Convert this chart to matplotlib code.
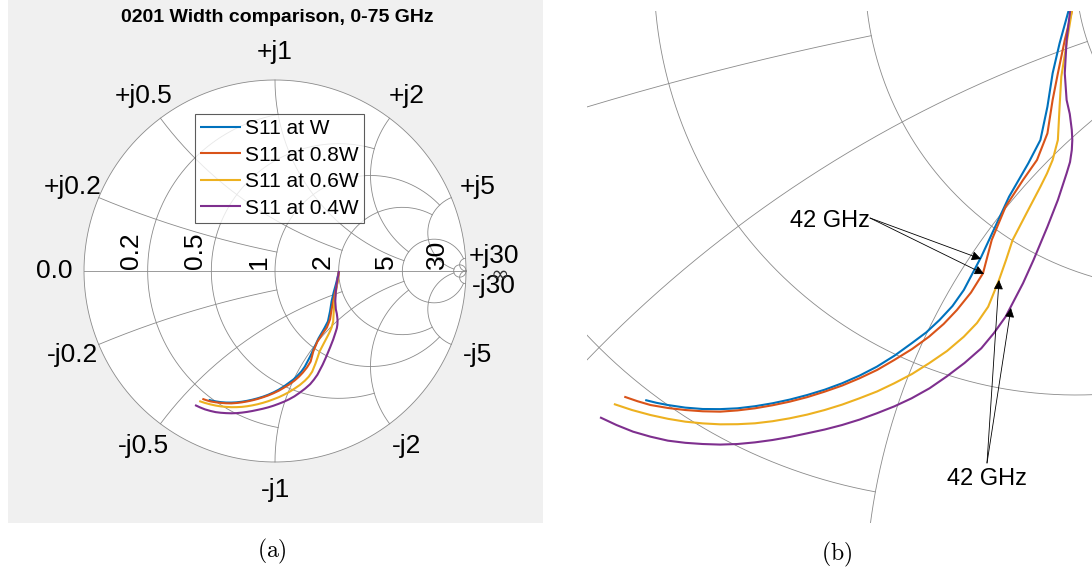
import numpy as np
import matplotlib
matplotlib.use("Agg")
import matplotlib.pyplot as plt

plt.rcParams['font.family'] = ['Liberation Sans', 'DejaVu Sans']
plt.rcParams['mathtext.fontset'] = 'cm'

# ---- data: S11 (reflection coefficient, real / imaginary part) ----
series_labels = ['S11 at W', 'S11 at 0.8W', 'S11 at 0.6W', 'S11 at 0.4W']
series_colors = ['#0072BD', '#D95319', '#EDB120', '#7E2F8E']

s11_w_re = [0.335, 0.3212, 0.3074, 0.2964, 0.2882, 0.2771, 0.2580, 0.2276, 0.2057, 0.1837,
            0.1561, 0.1382, 0.1177, 0.0967, 0.0736, 0.0468, 0.0186, -0.0085, -0.0363,
            -0.0637, -0.0913, -0.1188, -0.1464, -0.1738, -0.2014, -0.2289, -0.2564,
            -0.2839, -0.3114, -0.3294, -0.3472]
s11_w_im = [0.0, -0.0611, -0.1111, -0.1585, -0.2112, -0.2638, -0.3006, -0.3534, -0.4008,
            -0.4482, -0.5008, -0.5261, -0.5482, -0.5678, -0.5850, -0.6044, -0.6220, -0.6360,
            -0.6482, -0.6583, -0.6667, -0.6739, -0.6798, -0.6844, -0.6877, -0.6890, -0.6888,
            -0.6866, -0.6825, -0.6790, -0.6746]

s11_08w_re = [0.335, 0.3267, 0.3156, 0.3047, 0.2964, 0.2882, 0.2717, 0.2496, 0.2221, 0.2002,
              0.1864, 0.1675, 0.1452, 0.1242, 0.1011, 0.0744, 0.0461, 0.0193, -0.0088,
              -0.0360, -0.0638, -0.0912, -0.1190, -0.1461, -0.1739, -0.2013, -0.2289,
              -0.2564, -0.2839, -0.3112, -0.3389, -0.3594, -0.3803]
s11_08w_im = [0.0, -0.0611, -0.1058, -0.1585, -0.2006, -0.2533, -0.2954, -0.3270, -0.3692,
              -0.4218, -0.4744, -0.5047, -0.5324, -0.5545, -0.5746, -0.5940, -0.6114, -0.6270,
              -0.6403, -0.6517, -0.6614, -0.6700, -0.6772, -0.6829, -0.6877, -0.6910, -0.6930,
              -0.6924, -0.6904, -0.6872, -0.6825, -0.6765, -0.6693]

s11_06w_re = [0.335, 0.3267, 0.3185, 0.3101, 0.3074, 0.3047, 0.2964, 0.2875, 0.2771, 0.2551,
              0.2332, 0.2228, 0.2117, 0.1946, 0.1769, 0.1561, 0.1295, 0.1011, 0.0742, 0.0461,
              0.0190, -0.0088, -0.0360, -0.0638, -0.0912, -0.1190, -0.1461, -0.1739, -0.2013,
              -0.2289, -0.2564, -0.2839, -0.3112, -0.3389, -0.3681, -0.3967]
s11_06w_im = [0.0, -0.0611, -0.1111, -0.1638, -0.2112, -0.2638, -0.2954, -0.3167, -0.3376,
              -0.3796, -0.4218, -0.4534, -0.4850, -0.5272, -0.5529, -0.5746, -0.5972, -0.6166,
              -0.6335, -0.6482, -0.6611, -0.6719, -0.6818, -0.6904, -0.6976, -0.7035, -0.7081,
              -0.7114, -0.7128, -0.7130, -0.7115, -0.7088, -0.7043, -0.6983, -0.6904, -0.6809]

s11_04w_re = [0.335, 0.3239, 0.3185, 0.3156, 0.3185, 0.3235, 0.3267, 0.3275, 0.3267, 0.3239,
              0.3185, 0.3047, 0.2882, 0.2662, 0.2496, 0.2221, 0.2038, 0.1837, 0.1572, 0.1286,
              0.1019, 0.0736, 0.0466, 0.0186, -0.0085, -0.0363, -0.0637, -0.0913, -0.1188,
              -0.1464, -0.1738, -0.2014, -0.2289, -0.2564, -0.2839, -0.3114, -0.3389,
              -0.3664, -0.3926, -0.4186]
s11_04w_im = [0.0, -0.0611, -0.1058, -0.1585, -0.2006, -0.2227, -0.2480, -0.2638, -0.2796,
              -0.2986, -0.3165, -0.3586, -0.4008, -0.4534, -0.4902, -0.5430, -0.5687, -0.5929,
              -0.6161, -0.6377, -0.6561, -0.6719, -0.6845, -0.6956, -0.7055, -0.7141, -0.7212,
              -0.7272, -0.7330, -0.7378, -0.7415, -0.7441, -0.7450, -0.7441, -0.7422, -0.7388,
              -0.7325, -0.7246, -0.7141, -0.7019]

series_re = [s11_w_re, s11_08w_re, s11_06w_re, s11_04w_re]
series_im = [s11_w_im, s11_08w_im, s11_06w_im, s11_04w_im]

# S11 at 42 GHz for each width (W, 0.8W, 0.6W, 0.4W)
f42_re = [0.1833, 0.1880, 0.2117, 0.2306]
f42_im = [-0.4518, -0.4755, -0.4850, -0.5292]

# Smith grid: circle values and the limit each circle/arc is drawn up to
grid_values = [30, 5, 2, 1, 0.5, 0.2]
grid_limits = [np.inf, 30, 5, 5, 2, 1]
res_tick_labels = ['30', '5', '2', '1', '0.5', '0.2']
react_tick_labels = ['30', '5', '2', '1', '0.5', '0.2']

GRID_COLOR = '#8a8a8a'


def to_gamma(z):
    return (z - 1) / (z + 1)


def draw_grid(ax, lw=0.6):
    t = np.linspace(0, 2 * np.pi, 1500)
    ax.plot(np.cos(t), np.sin(t), color=GRID_COLOR, lw=lw, zorder=1)
    ax.plot([-1, 1], [0, 0], color=GRID_COLOR, lw=lw, zorder=1)
    for v, lim in zip(grid_values, grid_limits):
        pmax = np.arctan(lim)
        # constant-resistance circle, |x| <= lim
        x = np.tan(np.linspace(-pmax, pmax, 2000))
        g = to_gamma(v + 1j * x)
        ax.plot(g.real, g.imag, color=GRID_COLOR, lw=lw, zorder=1)
        # constant-reactance arcs, 0 <= r <= lim
        r = np.tan(np.linspace(0, pmax, 2000))
        for s in (1, -1):
            g = to_gamma(r + 1j * s * v)
            ax.plot(g.real, g.imag, color=GRID_COLOR, lw=lw, zorder=1)


def draw_curves(ax, lw=1.5):
    handles = []
    for re, im, c, lab in zip(series_re, series_im, series_colors, series_labels):
        h, = ax.plot(re, im, color=c, lw=lw, label=lab, zorder=3,
                     solid_capstyle='butt', solid_joinstyle='round')
        handles.append(h)
    return handles


fig = plt.figure(figsize=(10.92, 5.73), dpi=100)
W, H = 1092.0, 573.0

# ---------------- (a) full chart ----------------
axa = fig.add_axes([8 / W, (H - 523) / H, 535 / W, 523 / H])
axa.set_facecolor('#f0f0f0')
cx, cy, R = 275.0, 271.0, 191.0
axa.set_xlim((8 - cx) / R, (543 - cx) / R)
axa.set_ylim((cy - 523) / R, (cy - 0) / R)
axa.set_aspect('auto')
axa.axis('off')
axa.add_patch(plt.Rectangle((-2, -2), 4, 4, facecolor='#f0f0f0', edgecolor='none', zorder=0))
axa.add_patch(plt.Circle((0, 0), 1, facecolor='white', edgecolor='none', zorder=0.5))
draw_grid(axa)
handles = draw_curves(axa)

axa.text(0.01, (cy - 17) / R, '0201 Width comparison, 0-75 GHz', ha='center', va='center',
         fontsize=14, fontweight='bold')

lab_r = 1.147
for v, lab in zip(grid_values, react_tick_labels):
    g = to_gamma(1j * v)
    axa.text(lab_r * g.real, lab_r * g.imag, '+j' + lab, ha='center', va='center', fontsize=19)
    axa.text(lab_r * g.real, -lab_r * g.imag, '-j' + lab, ha='center', va='center', fontsize=19)
axa.text(-lab_r - 0.01, 0, '0.0', ha='center', va='center', fontsize=19)
axa.text(lab_r + 0.03, -0.018, '\u221e', ha='center', va='center', fontsize=16,
         fontfamily='DejaVu Sans', color='#333333')
for v, lab in zip(grid_values, res_tick_labels):
    left = to_gamma(v + 0j).real
    axa.text(left - 0.022, 0.012, lab, rotation=90, ha='right', va='bottom', fontsize=19)

leg = axa.legend(handles=handles, loc='upper left', bbox_to_anchor=(0.3495, 0.782),
                 borderaxespad=0, fontsize=15, frameon=True, fancybox=False,
                 handlelength=1.95, handletextpad=0.2, borderpad=0.25, labelspacing=0.36)
leg.get_frame().set_edgecolor('#333333')
leg.get_frame().set_linewidth(0.8)
leg.set_zorder(5)

# ---------------- (b) zoomed view ----------------
axb = fig.add_axes([587 / W, (H - 523) / H, (1092 - 587) / W, (523 - 11) / H])
ox, oy, U = 865.0, -27.0, 633.0
axb.set_xlim((587 - ox) / U, (1092 - ox) / U)
axb.set_ylim(-(523 - oy) / U, -(11 - oy) / U)
axb.set_aspect('auto')
axb.axis('off')
draw_grid(axb, lw=0.6)
draw_curves(axb, lw=1.5)

arrow_kw = dict(arrowstyle='-|>', color='black', lw=0.6, mutation_scale=14,
                shrinkA=0, shrinkB=0)
upper_tail = ((870 - ox) / U, -(218 + 27) / U)
lower_tail = ((987 - ox) / U, -(463 + 27) / U)
for i in (0, 1):
    axb.annotate('', xy=(f42_re[i], f42_im[i]), xytext=upper_tail, arrowprops=arrow_kw, zorder=6)
for i in (2, 3):
    axb.annotate('', xy=(f42_re[i], f42_im[i]), xytext=lower_tail, arrowprops=arrow_kw, zorder=6)
axb.text(upper_tail[0], upper_tail[1] - 0.004, '42 GHz', ha='right', va='center', fontsize=17)
axb.text(lower_tail[0], lower_tail[1] - 0.026, '42 GHz', ha='center', va='center', fontsize=17)

# panel captions
fig.text(272 / W, 1 - 551 / H, r'$(\mathrm{a})$', ha='center', va='center', fontsize=17)
fig.text(837 / W, 1 - 554 / H, r'$(\mathrm{b})$', ha='center', va='center', fontsize=17)

fig.savefig('out.png', dpi=100)
